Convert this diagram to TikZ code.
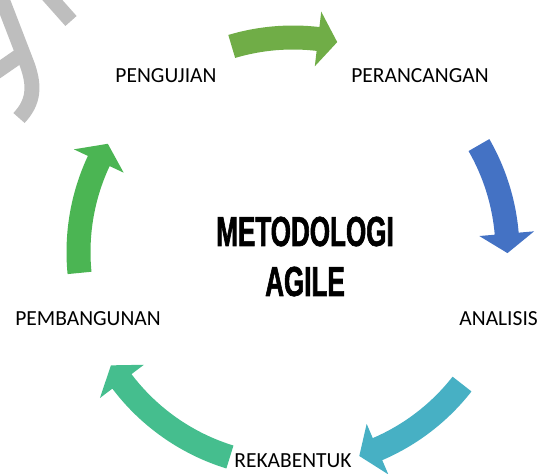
\documentclass[tikz,border=0pt]{standalone}
\usepackage{fontspec}
\setmainfont{Carlito}
\newfontfamily\judulfont[FakeStretch=0.62, FakeBold=1.4]{Liberation Sans}
\usetikzlibrary{positioning}

\definecolor{hijauzaitun}{HTML}{70AD47}
\definecolor{biru}{HTML}{4472C4}
\definecolor{tosca}{HTML}{47B0C4}
\definecolor{hijautosca}{HTML}{45BE8E}
\definecolor{hijau}{HTML}{4BB553}
\definecolor{abu}{HTML}{BEBEBE}

\tikzset{
  tahap/.style={font=\fontsize{21.5}{26}\selectfont, text=black, inner sep=0pt, anchor=base},
  judul/.style={font=\judulfont\bfseries\fontsize{42}{50}\selectfont, inner sep=0pt, anchor=base},
  tanda/.style={draw=abu, line width=15pt},
}

\begin{document}
\begin{tikzpicture}[x=1pt, y=1pt]
\clip (0,0) rectangle (539,474);

% pusat siklus
\coordinate (hub) at (293,222);

% tanda abu-abu di pojok kiri atas
\draw[tanda] (47,480) -- (71,453);
\draw[tanda] (0,480) -- (27,410) .. controls (35,388) and (34,372) .. (19,356);
\draw[tanda] (-4,402) -- (22,420);

% panah melengkung searah jarum jam: warna/ekor/ujung
\foreach \warna/\ekor/\ujung in {hijauzaitun/106.6/78.1, biru/29.9/-0.3,
    tosca/-38/-72, hijautosca/-107.1/-148.1, hijau/185.6/149.7}
{
  \fill[\warna, shift={(hub)}]
    (\ekor:226.5) arc[start angle=\ekor, end angle=\ujung+5.2, radius=226.5]
    -- (\ujung+5.2:242) -- (\ujung:214.5) -- (\ujung+5.2:187)
    -- (\ujung+5.2:202.5) arc[start angle=\ujung+5.2, end angle=\ekor, radius=202.5]
    -- cycle;
}

% tahapan
\node[tahap] (pengujian) at (166,391) {PENGUJIAN};
\node[tahap] (perancangan) at (420,391) {PERANCANGAN};
\node[tahap] (pembangunan) at (88,148) {PEMBANGUNAN};
\node[tahap, anchor=base east] (analisis) at (538,148) {ANALISIS};
\node[tahap] (rekabentuk) at (293,6) {REKABENTUK};

% judul di tengah
\node[judul] (metodologi) at (305,228) {METODOLOGI};
\node[judul] (agile) at (305,178) {AGILE};
\end{tikzpicture}
\end{document}
